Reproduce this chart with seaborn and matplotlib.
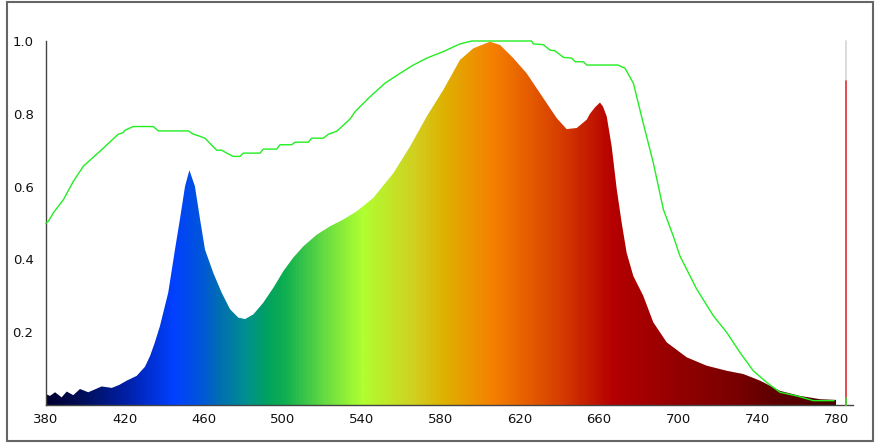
import numpy as np
import pandas as pd
import matplotlib
matplotlib.use("Agg")
import matplotlib.pyplot as plt
import seaborn as sns
from matplotlib.colors import LinearSegmentedColormap
from matplotlib.patches import Rectangle

# ---- data ----
spd_wl = [380, 382, 384.6, 387.9, 390.5, 393.8, 397.2, 401.4, 408.2, 413.3, 417, 420.9,
          425.9, 430.1, 432.7, 435, 437.7, 441.9, 445.3, 447.8, 450.4, 452.6, 455.4, 458,
          460.5, 464.7, 468.9, 473.2, 477.4, 480.8, 485, 490, 495.1, 500.2, 505.2, 510.3,
          517.1, 523.8, 530, 537.3, 545.7, 555.9, 564.3, 572.8, 581.2, 589.6, 596.4, 604.8,
          609.9, 616.6, 623.4, 631.8, 638.6, 643.6, 648.7, 653.8, 655.4, 658, 660.5, 662,
          663.9, 666.4, 669, 671.5, 674, 677.4, 682.4, 687.5, 694.3, 704.4, 714.5, 724.7,
          733.1, 741.5, 751.6, 761.8, 771.9, 780]
spd_val = [0.03, 0.025, 0.035, 0.021, 0.037, 0.027, 0.044, 0.035, 0.051, 0.047, 0.055, 0.067,
           0.080, 0.105, 0.135, 0.17, 0.217, 0.309, 0.427, 0.51, 0.601, 0.645, 0.601, 0.51,
           0.427, 0.363, 0.309, 0.263, 0.24, 0.236, 0.249, 0.281, 0.322, 0.368, 0.405, 0.436,
           0.468, 0.491, 0.508, 0.532, 0.569, 0.637, 0.71, 0.793, 0.866, 0.948, 0.98, 0.998,
           0.989, 0.953, 0.911, 0.843, 0.788, 0.758, 0.761, 0.784, 0.80, 0.818, 0.831, 0.82,
           0.793, 0.711, 0.592, 0.50, 0.418, 0.354, 0.30, 0.227, 0.172, 0.131, 0.108, 0.094,
           0.085, 0.067, 0.039, 0.025, 0.016, 0.014]

ref_wl = [380, 381.2, 384, 388.8, 393.8, 398.9, 407.3, 416.6, 419, 420, 424.2, 434.3, 436.9,
          452.1, 454.6, 457, 460.5, 466.4, 469, 471.5, 474.8, 478.2, 479.9, 488.4, 490,
          496.8, 498.5, 504.4, 506.1, 512.8, 514.5, 520.4, 523, 527.2, 534, 536.5, 544.1,
          551.6, 559.2, 566, 572.8, 581.2, 589.6, 595.5, 625.9, 626.7, 631.8, 635.2, 637.7,
          642, 646.2, 647.9, 652.1, 653.8, 669.5, 673.2, 677.4, 682.4, 687.5, 692.6, 697.6,
          701, 709.5, 717.9, 724.7, 731.4, 738.1, 744.9, 751.6, 760.1, 768.5, 779]
ref_val = [0.50, 0.505, 0.53, 0.564, 0.614, 0.656, 0.697, 0.744, 0.748, 0.755, 0.765, 0.765,
           0.753, 0.753, 0.744, 0.74, 0.733, 0.70, 0.70, 0.692, 0.683, 0.683, 0.692, 0.692,
           0.703, 0.703, 0.715, 0.715, 0.722, 0.722, 0.733, 0.733, 0.744, 0.752, 0.786,
           0.806, 0.847, 0.884, 0.911, 0.934, 0.953, 0.971, 0.992, 1.0, 1.0, 0.992, 0.99,
           0.975, 0.973, 0.955, 0.953, 0.943, 0.943, 0.934, 0.934, 0.925, 0.884, 0.774,
           0.665, 0.537, 0.464, 0.409, 0.318, 0.245, 0.199, 0.144, 0.094, 0.062, 0.035,
           0.025, 0.012, 0.012]

marker_wl = 785
marker_levels = [1.0, 0.89, 0.02]
marker_colors = ["#d4d4d4", "#e8323a", "#33dd33"]

x_ticks = [380, 420, 460, 500, 540, 580, 620, 660, 700, 740, 780]
y_ticks = [0.2, 0.4, 0.6, 0.8, 1.0]

color_stops_wl = [380, 400, 420, 444, 456, 468, 481, 491, 501, 523, 540, 566, 582, 606,
                  639, 667, 698, 731, 748, 780]
color_stops = ["#000030", "#001060", "#0020a8", "#0040ff", "#0052e0", "#0070b0", "#009090",
               "#00a060", "#10b050", "#70e040", "#b0ff30", "#d0d020", "#dfb000", "#f58000",
               "#d84000", "#b50000", "#950000", "#780000", "#600000", "#480000"]

# ---- figure ----
sns.set_theme(style="white")
plt.rcParams["font.family"] = ["DejaVu Sans"]
fig = plt.figure(figsize=(8.77, 4.48), dpi=100)
ax = fig.add_axes([46/877, 1-405/448, (853-46)/877, (405-41)/448])
fig.patches.append(Rectangle((7/877, 1-441/448), (873-7)/877, (441-2)/448,
                             transform=fig.transFigure, fill=False,
                             edgecolor="#666666", linewidth=1.5))

lo, hi = color_stops_wl[0], color_stops_wl[-1]
cmap = LinearSegmentedColormap.from_list(
    "spec", [((w - lo) / (hi - lo), c) for w, c in zip(color_stops_wl, color_stops)])
grad = np.linspace(0, 1, 800).reshape(1, -1)
im = ax.imshow(grad, cmap=cmap, aspect="auto", extent=[380, 780, 0, 1.0],
               origin="lower", zorder=2, interpolation="bilinear")
poly = ax.fill_between(spd_wl, 0, spd_val, facecolor="none", edgecolor="none", zorder=1)
clip = poly.get_paths()[0]
im.set_clip_path(clip, transform=ax.transData)

df = pd.DataFrame({"wl": ref_wl, "val": ref_val})
sns.lineplot(data=df, x="wl", y="val", ax=ax, color="#22ee22", linewidth=1.0,
             zorder=4, clip_on=False)

for lvl, col in zip(marker_levels, marker_colors):
    ax.plot([marker_wl, marker_wl], [0, lvl], color=col, linewidth=1.2,
            zorder=5, clip_on=False)

ax.set_xlim(380, 788.6)
ax.set_ylim(0, 1.0)
ax.set_xticks(x_ticks)
ax.set_xticklabels([str(t) for t in x_ticks])
ax.set_yticks(y_ticks)
ax.set_yticklabels([f"{t:.1f}" for t in y_ticks])
ax.set_xlabel("")
ax.set_ylabel("")
for s in ["top", "right"]:
    ax.spines[s].set_visible(False)
for s in ["left", "bottom"]:
    ax.spines[s].set_color("#444444")
    ax.spines[s].set_linewidth(1.0)
ax.tick_params(axis="x", direction="in", length=5, width=1, color="#222222",
               labelsize=9.5, pad=6, labelcolor="#111111")
ax.tick_params(axis="y", direction="inout", length=6, width=1, color="#222222",
               labelsize=9.5, pad=6, labelcolor="#111111")
ax.set_facecolor("white")
ax.grid(False)

fig.savefig("out.png", dpi=100, facecolor="white")
